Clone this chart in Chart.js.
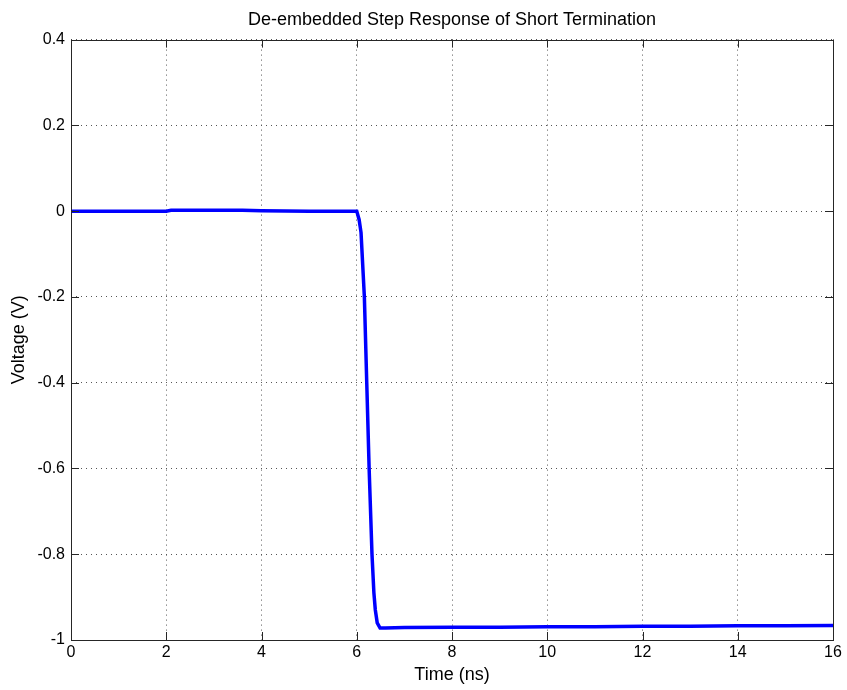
<!DOCTYPE html>
<html lang="en">
<head>
    <meta charset="UTF-8">
    <title>De-embedded Step Response of Short Termination</title>
    <script src="https://cdn.jsdelivr.net/npm/chart.js"></script>
    <style>
        html, body { margin: 0; padding: 0; background: #fff; }
        canvas { display: block; }
    </style>
</head>
<body>
    <canvas id="stepChart" width="847" height="690"></canvas>

    <script>
        // Data
        const timeNs = [0, 1, 2, 2.1, 2.6, 2.8, 3.2, 3.6, 4, 5, 5.9, 6.0, 6.05, 6.09, 6.16, 6.21, 6.26, 6.32, 6.36, 6.39, 6.43, 6.49, 6.6, 7, 8, 9, 10, 11, 12, 13, 14, 15, 16];
        const voltage = [0, 0, 0, 0.002, 0.002, 0.002, 0.002, 0.002, 0.001, 0, 0, 0, -0.02, -0.05, -0.2, -0.4, -0.6, -0.8, -0.89, -0.93, -0.96, -0.972, -0.972, -0.971, -0.97, -0.97, -0.969, -0.969, -0.968, -0.968, -0.967, -0.967, -0.966];

        const xTicks = [0, 2, 4, 6, 8, 10, 12, 14, 16];
        const yTicks = [-1, -0.8, -0.6, -0.4, -0.2, 0, 0.2, 0.4];

        const points = timeNs.map((t, i) => ({ x: t, y: voltage[i] }));

        const fontFamily = '"Liberation Sans", Arial, sans-serif';

        // MATLAB style box with inward tick marks
        const boxPlugin = {
            id: 'boxPlugin',
            afterDraw(chart) {
                const { ctx, chartArea: a, scales } = chart;
                const len = 8;
                ctx.save();
                ctx.strokeStyle = '#262626';
                ctx.lineWidth = 1;
                ctx.beginPath();
                xTicks.forEach(v => {
                    const px = Math.round(scales.x.getPixelForValue(v)) + 0.5;
                    ctx.moveTo(px, a.bottom);
                    ctx.lineTo(px, a.bottom - len);
                    ctx.moveTo(px, a.top);
                    ctx.lineTo(px, a.top + len);
                });
                yTicks.forEach(v => {
                    const py = Math.round(scales.y.getPixelForValue(v)) + 0.5;
                    ctx.moveTo(a.left, py);
                    ctx.lineTo(a.left + len, py);
                    ctx.moveTo(a.right, py);
                    ctx.lineTo(a.right - len, py);
                });
                ctx.stroke();
                ctx.strokeRect(Math.round(a.left) + 0.5, Math.round(a.top) + 0.5,
                    Math.round(a.right - a.left), Math.round(a.bottom - a.top));
                ctx.restore();
            }
        };

        const fmt = v => String(Math.round(v * 10) / 10);

        const chart = new Chart(document.getElementById('stepChart').getContext('2d'), {
            type: 'line',
            data: {
                datasets: [{
                    data: points,
                    borderColor: '#0000ff',
                    borderWidth: 3.5,
                    pointRadius: 0,
                    fill: false,
                    tension: 0
                }]
            },
            options: {
                responsive: false,
                animation: false,
                layout: { padding: { left: 0, right: 14, top: 0, bottom: 0 } },
                plugins: {
                    legend: { display: false },
                    tooltip: { enabled: false },
                    title: {
                        display: true,
                        fullSize: false,
                        text: 'De-embedded Step Response of Short Termination',
                        color: '#000',
                        font: { family: fontFamily, size: 18, weight: 'normal' },
                        padding: { top: 9, bottom: 9 }
                    }
                },
                scales: {
                    x: {
                        type: 'linear',
                        min: 0,
                        max: 16,
                        afterFit: s => { s.height = 50; },
                        afterBuildTicks: s => { s.ticks = xTicks.map(v => ({ value: v })); },
                        ticks: {
                            color: '#000',
                            padding: 3,
                            maxRotation: 0,
                            font: { family: fontFamily, size: 16 },
                            callback: fmt
                        },
                        grid: {
                            color: '#555',
                            lineWidth: 1,
                            drawTicks: false
                        },
                        border: { display: false, dash: [1, 4] },
                        title: {
                            display: true,
                            text: 'Time (ns)',
                            color: '#000',
                            font: { family: fontFamily, size: 18 },
                            padding: { top: 0, bottom: 4 }
                        }
                    },
                    y: {
                        min: -1,
                        max: 0.4,
                        afterFit: s => { s.width = 71; },
                        afterBuildTicks: s => { s.ticks = yTicks.map(v => ({ value: v })); },
                        ticks: {
                            color: '#000',
                            padding: 6,
                            font: { family: fontFamily, size: 16 },
                            callback: fmt
                        },
                        grid: {
                            color: '#555',
                            lineWidth: 1,
                            drawTicks: false
                        },
                        border: { display: false, dash: [1, 4] },
                        title: {
                            display: true,
                            text: 'Voltage (V)',
                            color: '#000',
                            font: { family: fontFamily, size: 18 },
                            padding: { top: 8, bottom: 0 }
                        }
                    }
                }
            },
            plugins: [boxPlugin]
        });
    </script>
</body>
</html>
